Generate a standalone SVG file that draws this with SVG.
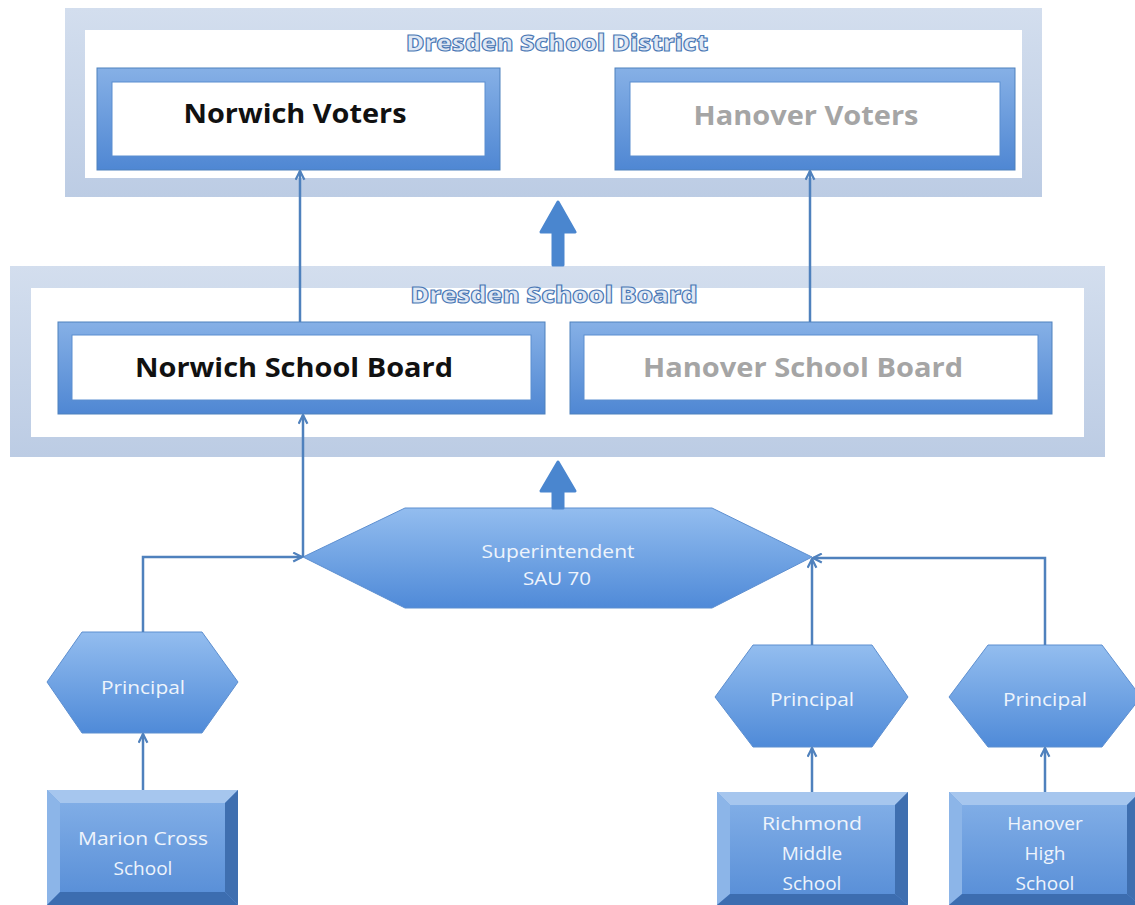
<svg xmlns="http://www.w3.org/2000/svg" width="1135" height="905" viewBox="0 0 1135 905">
  <style>
    .frame-in { fill: #ffffff; }
    .title { font-family: "Open Sans", "Liberation Sans", sans-serif; font-weight: 800; font-size: 23px; fill: #dfe8f4; stroke: #4a78b5; stroke-width: 1.1px; text-anchor: middle; }
    .box-out { fill: url(#borderGrad); stroke: #4f81bd; stroke-width: 1; }
    .box-in { fill: #ffffff; stroke: #5b8ed0; stroke-width: 1; }
    .lbl-dark { font-family: "Open Sans", "Liberation Sans", sans-serif; font-weight: 700; font-size: 27px; fill: #111111; text-anchor: middle; }
    .lbl-grey { font-family: "Open Sans", "Liberation Sans", sans-serif; font-weight: 700; font-size: 27px; fill: #a5a5a5; text-anchor: middle; }
    .hex { fill: url(#hexGrad); stroke: #5d8fd0; stroke-width: 1; }
    .lbl-light { font-family: "Open Sans", "Liberation Sans", sans-serif; font-size: 19px; fill: #eef4fc; text-anchor: middle; }
    .conn { fill: none; stroke: #4f81bd; stroke-width: 2.5; }
    .thick { fill: #4a86cf; stroke: #4a86cf; stroke-width: 3; stroke-linejoin: round; }
  </style>
  <defs>
    <linearGradient id="borderGrad" x1="0" y1="0" x2="0" y2="1">
      <stop offset="0" stop-color="#86b0e6"/>
      <stop offset="1" stop-color="#4f87d3"/>
    </linearGradient>
    <linearGradient id="hexGrad" x1="0" y1="0" x2="0" y2="1">
      <stop offset="0" stop-color="#93bdef"/>
      <stop offset="1" stop-color="#4f8ad8"/>
    </linearGradient>
    <linearGradient id="faceGrad" x1="0" y1="0" x2="0" y2="1">
      <stop offset="0" stop-color="#80ade6"/>
      <stop offset="1" stop-color="#5a90d8"/>
    </linearGradient>
    <linearGradient id="frameGrad" x1="0" y1="0" x2="0" y2="1">
      <stop offset="0" stop-color="#d3deee"/>
      <stop offset="1" stop-color="#bccce4"/>
    </linearGradient>
    <marker id="arr" viewBox="0 0 10 10" refX="9" refY="5" markerWidth="11" markerHeight="11" markerUnits="userSpaceOnUse" orient="auto">
      <path d="M1,1 L9,5 L1,9" fill="none" stroke="#4f81bd" stroke-width="2"/>
    </marker>
  </defs>

  <rect width="1135" height="905" fill="#ffffff"/>

  <!-- Dresden School District container -->
  <g id="district">
    <rect x="65" y="8" width="977" height="189" fill="url(#frameGrad)"/>
    <rect x="85" y="30" width="937" height="148" class="frame-in"/>
    <text x="557" y="51" class="title" textLength="302" lengthAdjust="spacingAndGlyphs">Dresden School District</text>
  </g>

  <!-- Dresden School Board container -->
  <g id="board">
    <rect x="10" y="266" width="1095" height="191" fill="url(#frameGrad)"/>
    <rect x="31" y="288" width="1053" height="149" class="frame-in"/>
    <text x="554" y="303" class="title" textLength="287" lengthAdjust="spacingAndGlyphs">Dresden School Board</text>
  </g>

  <g id="norwich-voters">
    <rect x="97" y="68" width="403" height="102" class="box-out"/>
    <rect x="112" y="82" width="373" height="74" class="box-in"/>
    <text x="295" y="123" class="lbl-dark" textLength="223" lengthAdjust="spacingAndGlyphs">Norwich Voters</text>
  </g>

  <g id="hanover-voters">
    <rect x="615" y="68" width="400" height="102" class="box-out"/>
    <rect x="630" y="82" width="370" height="74" class="box-in"/>
    <text x="806" y="125" class="lbl-grey" textLength="225" lengthAdjust="spacingAndGlyphs">Hanover Voters</text>
  </g>

  <g id="norwich-board">
    <rect x="58" y="322" width="487" height="92" class="box-out"/>
    <rect x="72" y="335" width="459" height="65" class="box-in"/>
    <text x="294" y="377" class="lbl-dark" textLength="318" lengthAdjust="spacingAndGlyphs">Norwich School Board</text>
  </g>

  <g id="hanover-board">
    <rect x="570" y="322" width="482" height="92" class="box-out"/>
    <rect x="584" y="335" width="454" height="65" class="box-in"/>
    <text x="803" y="377" class="lbl-grey" textLength="320" lengthAdjust="spacingAndGlyphs">Hanover School Board</text>
  </g>

  <g id="superintendent">
    <polygon points="303,557 405,508 712,508 812,557 712,608 405,608" class="hex"/>
    <text x="558" y="558" class="lbl-light" textLength="153" lengthAdjust="spacingAndGlyphs">Superintendent</text>
    <text x="557" y="585" class="lbl-light" textLength="68" lengthAdjust="spacingAndGlyphs">SAU 70</text>
  </g>

  <g id="principal-mcs">
    <polygon points="47,682 82,632 202,632 238,682 202,733 82,733" class="hex"/>
    <text x="143" y="694" class="lbl-light" textLength="84" lengthAdjust="spacingAndGlyphs">Principal</text>
  </g>

  <g id="principal-rms">
    <polygon points="715,697 753,645 872,645 908,697 872,747 753,747" class="hex"/>
    <text x="812" y="706" class="lbl-light" textLength="84" lengthAdjust="spacingAndGlyphs">Principal</text>
  </g>

  <g id="principal-hhs">
    <polygon points="949,697 988,645 1102,645 1141,697 1102,747 988,747" class="hex"/>
    <text x="1045" y="706" class="lbl-light" textLength="84" lengthAdjust="spacingAndGlyphs">Principal</text>
  </g>

  <!-- bevelled school blocks -->
  <g id="school-mcs">
    <rect x="47" y="790" width="191" height="115" fill="#6f9fe0"/>
    <polygon points="47,790 238,790 225,803 60,803" fill="#a6c6ee"/>
    <polygon points="47,790 60,803 60,892 47,905" fill="#8cb5e8"/>
    <polygon points="238,790 238,905 225,892 225,803" fill="#3f6fb0"/>
    <polygon points="47,905 60,892 225,892 238,905" fill="#3c6db0"/>
    <rect x="60" y="803" width="165" height="89" fill="url(#faceGrad)"/>
    <text x="143" y="845" class="lbl-light" textLength="130" lengthAdjust="spacingAndGlyphs">Marion Cross</text>
    <text x="143" y="875" class="lbl-light">School</text>
  </g>

  <g id="school-rms">
    <rect x="717" y="792" width="191" height="113" fill="#6f9fe0"/>
    <polygon points="717,792 908,792 895,805 730,805" fill="#a6c6ee"/>
    <polygon points="717,792 730,805 730,894 717,905" fill="#8cb5e8"/>
    <polygon points="908,792 908,905 895,894 895,805" fill="#3f6fb0"/>
    <polygon points="717,905 730,894 895,894 908,905" fill="#3c6db0"/>
    <rect x="730" y="805" width="165" height="89" fill="url(#faceGrad)"/>
    <text x="812" y="830" class="lbl-light" textLength="100" lengthAdjust="spacingAndGlyphs">Richmond</text>
    <text x="812" y="860" class="lbl-light">Middle</text>
    <text x="812" y="890" class="lbl-light">School</text>
  </g>

  <g id="school-hhs">
    <rect x="949" y="792" width="191" height="113" fill="#6f9fe0"/>
    <polygon points="949,792 1140,792 1127,805 962,805" fill="#a6c6ee"/>
    <polygon points="949,792 962,805 962,894 949,905" fill="#8cb5e8"/>
    <polygon points="1140,792 1140,905 1127,894 1127,805" fill="#3f6fb0"/>
    <polygon points="949,905 962,894 1127,894 1140,905" fill="#3c6db0"/>
    <rect x="962" y="805" width="165" height="89" fill="url(#faceGrad)"/>
    <text x="1045" y="830" class="lbl-light">Hanover</text>
    <text x="1045" y="860" class="lbl-light">High</text>
    <text x="1045" y="890" class="lbl-light">School</text>
  </g>

  <g id="connectors">
    <path d="M300,322 V171" class="conn" marker-end="url(#arr)"/>
    <path d="M810,322 V171" class="conn" marker-end="url(#arr)"/>
    <path d="M303,557 V415" class="conn" marker-end="url(#arr)"/>
    <path d="M143,632 V557 H302" class="conn" marker-end="url(#arr)"/>
    <path d="M812,645 V559" class="conn" marker-end="url(#arr)"/>
    <path d="M1045,645 V558 H813" class="conn" marker-end="url(#arr)"/>
    <path d="M143,790 V734" class="conn" marker-end="url(#arr)"/>
    <path d="M812,792 V748" class="conn" marker-end="url(#arr)"/>
    <path d="M1045,792 V748" class="conn" marker-end="url(#arr)"/>
    <path d="M558,202 L575,232 L563,232 L563,265 L553,265 L553,232 L541,232 Z" class="thick"/>
    <path d="M558,462 L575,491 L563,491 L563,508 L553,508 L553,491 L541,491 Z" class="thick"/>
  </g>
</svg>
